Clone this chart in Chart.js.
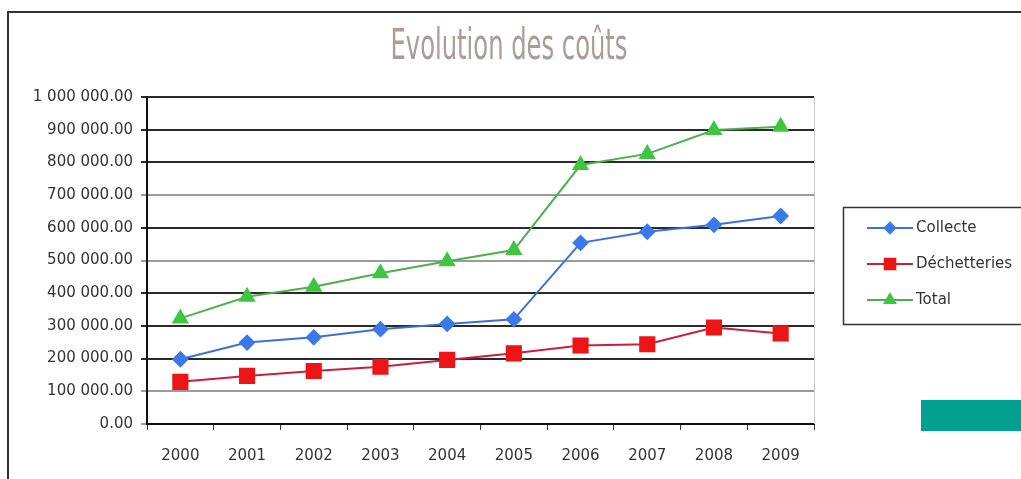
<!DOCTYPE html>
<html>
<head>
<meta charset="utf-8">
<script src="https://cdn.jsdelivr.net/npm/chart.js@4"></script>
<style>
  html, body { margin: 0; padding: 0; background: #fff; }
  #wrap { position: relative; width: 1021px; height: 479px; overflow: hidden; }
  #costChart { position: absolute; left: 0; top: 0; }
  .frameTop { position: absolute; left: 7px; top: 11px; width: 1014px; height: 2px; background: #333; }
  .frameLeft { position: absolute; left: 7px; top: 11px; width: 2px; height: 468px; background: #333; }
  .tealBox { position: absolute; left: 921px; top: 400px; width: 100px; height: 31px; background: #02a08e; }
</style>
</head>
<body>
<div id="wrap">
  <canvas id="costChart" width="1021" height="479"></canvas>
  <div class="frameTop"></div>
  <div class="frameLeft"></div>
  <div class="tealBox"></div>
</div>
<script>
// data
const chartTitle = 'Evolution des coûts';
const years = ['2000', '2001', '2002', '2003', '2004', '2005', '2006', '2007', '2008', '2009'];
const collecte = [198000, 249000, 265000, 290000, 306000, 320000, 554000, 588000, 609000, 636000];
const dechetteries = [129000, 147000, 162000, 175000, 196000, 216000, 240000, 244000, 295000, 277000];
const total = [323000, 389000, 420000, 461000, 498000, 532000, 792000, 826000, 899000, 909000];
const yTicks = [0, 100000, 200000, 300000, 400000, 500000, 600000, 700000, 800000, 900000, 1000000];

const darkLines = [200000, 300000, 400000, 600000, 800000, 900000, 1000000];

function formatNumber(v) {
  var parts = Number(v).toFixed(2).split('.');
  var intPart = parts[0].replace(/\B(?=(\d{3})+(?!\d))/g, ' ');
  return intPart + '.' + parts[1];
}

// title, drawn condensed like the original
const titlePlugin = {
  id: 'condensedTitle',
  afterDraw(chart) {
    const ctx = chart.ctx;
    ctx.save();
    ctx.font = '42px "DejaVu Sans Condensed", "DejaVu Sans", sans-serif';
    ctx.fillStyle = '#ab9c96';
    ctx.textAlign = 'center';
    ctx.textBaseline = 'alphabetic';
    const w = ctx.measureText(chartTitle).width;
    ctx.translate(509, 59);
    ctx.scale(237 / w, 1);
    ctx.fillText(chartTitle, 0, 0);
    ctx.restore();
  }
};

// boxed legend with line + marker samples
const boxLegend = {
  id: 'boxLegend',
  afterDraw(chart) {
    const ctx = chart.ctx;
    const area = chart.chartArea;
    const left = area.right + 29;
    const top = 207;
    ctx.save();
    ctx.strokeStyle = '#333';
    ctx.lineWidth = 1.5;
    ctx.strokeRect(left + 0.5, top + 0.5, 220, 117);
    const rowY = [228, 264, 300];
    chart.data.datasets.forEach(function(ds, i) {
      const y = rowY[i];
      ctx.strokeStyle = ds.borderColor;
      ctx.lineWidth = 2;
      ctx.beginPath();
      ctx.moveTo(left + 24, y);
      ctx.lineTo(left + 70, y);
      ctx.stroke();
      ctx.fillStyle = ds.pointBackgroundColor;
      ctx.strokeStyle = ds.pointBorderColor;
      Chart.helpers.drawPoint(ctx, {
        pointStyle: ds.pointStyle,
        radius: ds.pointRadius * 0.75,
        borderWidth: 1
      }, left + 47, y);
      ctx.fillStyle = '#333';
      ctx.font = '15px "DejaVu Sans", sans-serif';
      ctx.textAlign = 'left';
      ctx.textBaseline = 'middle';
      ctx.fillText(ds.label, left + 73, y);
    });
    // light right edge of the plot area
    ctx.strokeStyle = '#c8c8c8';
    ctx.lineWidth = 1;
    ctx.beginPath();
    ctx.moveTo(area.right + 0.5, area.top);
    ctx.lineTo(area.right + 0.5, area.bottom);
    ctx.stroke();
    ctx.restore();
  }
};

new Chart('costChart', {
  type: 'line',
  data: {
    labels: years,
    datasets: [{
      label: 'Collecte',
      data: collecte,
      borderColor: '#3f6fd6',
      backgroundColor: '#3a7ae8',
      pointBackgroundColor: '#3a7ae8',
      pointBorderColor: '#3a7ae8',
      pointStyle: 'rectRot',
      pointRadius: 7,
      borderWidth: 2,
      lineTension: 0,
      fill: false
    }, {
      label: 'Déchetteries',
      data: dechetteries,
      borderColor: '#c8203a',
      backgroundColor: '#ec1414',
      pointBackgroundColor: '#ec1414',
      pointBorderColor: '#ec1414',
      pointStyle: 'rect',
      pointRadius: 10,
      borderWidth: 2,
      lineTension: 0,
      fill: false
    }, {
      label: 'Total',
      data: total,
      borderColor: '#4cb050',
      backgroundColor: '#3fc640',
      pointBackgroundColor: '#3fc640',
      pointBorderColor: '#3fc640',
      pointStyle: 'triangle',
      pointRadius: 8,
      borderWidth: 2,
      lineTension: 0,
      fill: false
    }]
  },
  options: {
    responsive: false,
    animation: false,
    layout: { padding: { top: 97, left: 31, right: 207, bottom: 0 } },
    plugins: {
      legend: { display: false },
      title: { display: false },
      tooltip: { enabled: false }
    },
    scales: {
      x: {
        type: 'category',
        offset: true,
        afterFit(scale) { scale.height = 55; },
        grid: {
          offset: true,
          drawOnChartArea: false,
          drawTicks: true,
          tickLength: 6,
          color: '#333'
        },
        border: { display: true, color: '#111', width: 2 },
        ticks: {
          color: '#333',
          padding: 17,
          font: { family: '"DejaVu Sans", sans-serif', size: 15 }
        }
      },
      y: {
        type: 'linear',
        min: 0,
        max: 1000000,
        afterFit(scale) { scale.width = 116; },
        afterBuildTicks(scale) {
          scale.ticks = yTicks.map(function(v) { return { value: v }; });
        },
        grid: {
          tickLength: 6,
          lineWidth: 2,
          color(c) {
            return darkLines.indexOf(c.tick.value) >= 0 ? '#2a2a2a' : '#9a9a9a';
          }
        },
        border: { display: true, color: '#111', width: 2 },
        ticks: {
          color: '#333',
          padding: 8,
          font: { family: '"DejaVu Sans", sans-serif', size: 15 },
          callback(v) { return formatNumber(v); }
        }
      }
    }
  },
  plugins: [titlePlugin, boxLegend]
});
</script>
</body>
</html>
